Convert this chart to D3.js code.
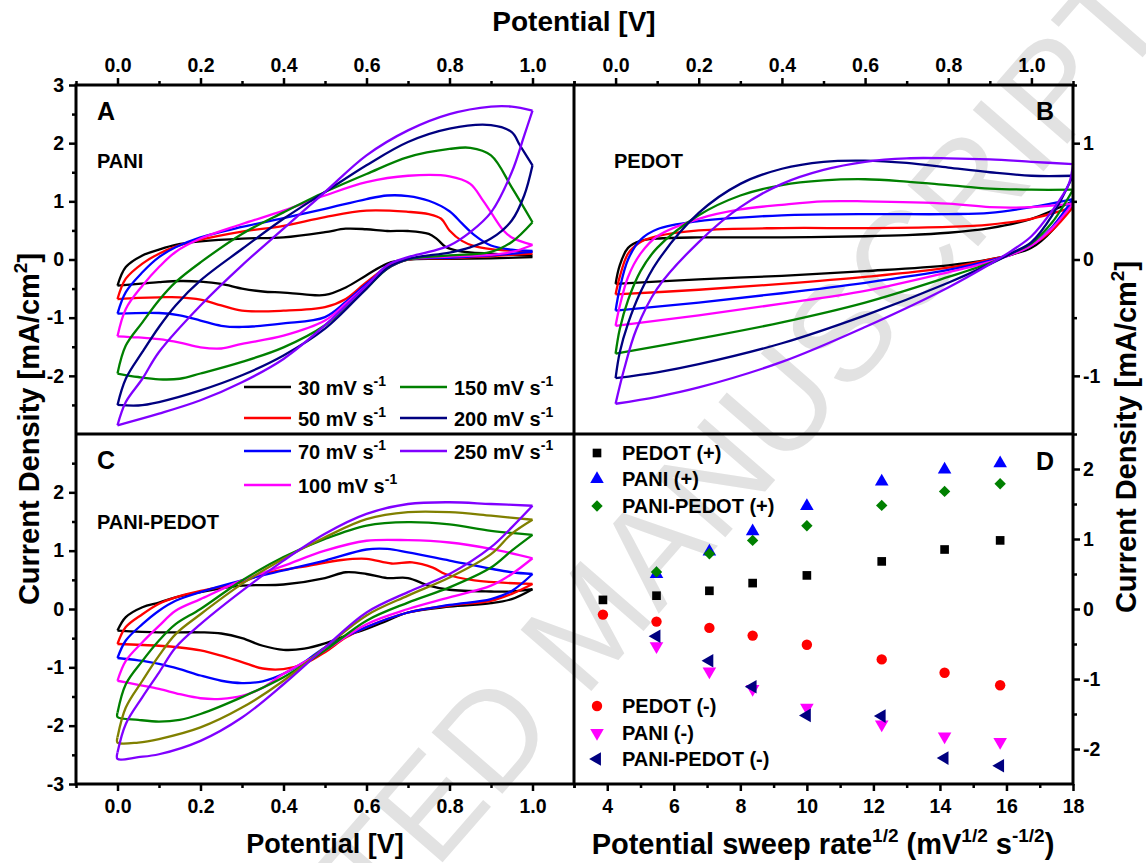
<!DOCTYPE html>
<html>
<head>
<meta charset="utf-8">
<script src="https://cdn.jsdelivr.net/npm/d3@7"></script>
<style>
  body { margin: 0; background: #fff; }
  text { font-family: "Liberation Sans", Arial, Helvetica, sans-serif; font-weight: bold; }
</style>
</head>
<body>
<div id="chart"></div>
<script>
////////////////////  data  //////////////////////////////

// sweep rates (mV/s) used for the cyclic voltammograms
var rateLabels = ["30", "50", "70", "100", "150", "200", "250"];
var colorsA = ["#000000", "#ff0000", "#0000ff", "#ff00ff", "#008000", "#000080", "#8000ff"];
var colorsC = ["#000000", "#ff0000", "#0000ff", "#ff00ff", "#008000", "#808000", "#8000ff"];

// panel A : PANI  -- [potential V, current mA/cm2], forward and reverse scan
var panelA_fwd = [
  [[0,-0.45],[0.02,-0.13],[0.06,0.07],[0.1,0.17],[0.14,0.25],[0.2,0.31],[0.3,0.36],[0.4,0.38],[0.5,0.47],[0.55,0.53],[0.6,0.52],[0.65,0.49],[0.7,0.49],[0.75,0.44],[0.77,0.35],[0.79,0.22],[0.82,0.15],[0.9,0.1],[1.0,0.07]],
  [[0,-0.68],[0.02,-0.33],[0.06,-0.07],[0.1,0.1],[0.14,0.22],[0.2,0.34],[0.3,0.48],[0.4,0.58],[0.5,0.73],[0.6,0.84],[0.7,0.82],[0.75,0.78],[0.78,0.7],[0.8,0.5],[0.83,0.32],[0.86,0.23],[0.9,0.18],[1.0,0.13]],
  [[0,-0.93],[0.02,-0.56],[0.06,-0.22],[0.1,0.04],[0.14,0.21],[0.2,0.38],[0.3,0.56],[0.4,0.71],[0.5,0.87],[0.6,1.04],[0.65,1.1],[0.7,1.09],[0.75,1.01],[0.8,0.83],[0.83,0.62],[0.86,0.42],[0.9,0.24],[0.95,0.17],[1.0,0.15]],
  [[0,-1.32],[0.02,-0.85],[0.06,-0.45],[0.1,-0.13],[0.14,0.13],[0.2,0.36],[0.3,0.61],[0.4,0.84],[0.5,1.1],[0.6,1.33],[0.7,1.44],[0.8,1.43],[0.85,1.3],[0.88,1.02],[0.9,0.81],[0.93,0.5],[0.95,0.38],[1.0,0.25]],
  [[0,-1.96],[0.02,-1.48],[0.06,-1.08],[0.1,-0.7],[0.14,-0.39],[0.2,-0.05],[0.3,0.44],[0.4,0.81],[0.5,1.16],[0.6,1.47],[0.7,1.76],[0.8,1.9],[0.85,1.92],[0.9,1.79],[0.95,1.24],[1.0,0.64]],
  [[0,-2.5],[0.02,-2.05],[0.06,-1.59],[0.1,-1.16],[0.14,-0.79],[0.2,-0.36],[0.3,0.18],[0.4,0.7],[0.5,1.16],[0.6,1.62],[0.7,2.02],[0.8,2.25],[0.9,2.31],[0.95,2.19],[0.97,1.96],[1.0,1.62]],
  [[0,-2.85],[0.02,-2.45],[0.06,-2.05],[0.1,-1.59],[0.2,-0.79],[0.3,-0.1],[0.4,0.53],[0.5,1.16],[0.6,1.79],[0.7,2.22],[0.8,2.5],[0.9,2.63],[0.95,2.63],[1.0,2.56]]
];
var panelA_rev = [
  [[1.0,0.04],[0.9,0.02],[0.8,0.01],[0.7,0],[0.65,-0.07],[0.6,-0.27],[0.55,-0.48],[0.5,-0.61],[0.45,-0.6],[0.4,-0.57],[0.35,-0.55],[0.3,-0.5],[0.25,-0.42],[0.2,-0.38],[0.15,-0.37],[0.1,-0.39],[0.05,-0.42],[0,-0.45]],
  [[1.0,0.1],[0.9,0.06],[0.8,0.02],[0.7,0],[0.65,-0.13],[0.6,-0.39],[0.55,-0.68],[0.5,-0.82],[0.4,-0.88],[0.3,-0.88],[0.25,-0.79],[0.2,-0.69],[0.15,-0.65],[0.1,-0.65],[0.05,-0.66],[0,-0.68]],
  [[1.0,0.13],[0.9,0.07],[0.8,0.03],[0.7,0],[0.65,-0.15],[0.6,-0.42],[0.55,-0.73],[0.5,-0.99],[0.4,-1.1],[0.3,-1.16],[0.25,-1.14],[0.2,-1.05],[0.15,-0.96],[0.1,-0.92],[0,-0.93]],
  [[1.0,0.25],[0.95,0.13],[0.9,0.08],[0.8,0.05],[0.7,0],[0.65,-0.16],[0.6,-0.45],[0.55,-0.76],[0.5,-1.05],[0.4,-1.31],[0.3,-1.45],[0.25,-1.53],[0.2,-1.51],[0.15,-1.43],[0.1,-1.37],[0.05,-1.34],[0,-1.32]],
  [[1.0,0.64],[0.95,0.3],[0.9,0.13],[0.8,0.07],[0.7,0],[0.65,-0.16],[0.6,-0.5],[0.55,-0.82],[0.5,-1.13],[0.4,-1.51],[0.3,-1.76],[0.2,-1.96],[0.15,-2.05],[0.1,-2.06],[0.05,-2.02],[0,-1.96]],
  [[1.0,1.62],[0.98,1.1],[0.95,0.67],[0.9,0.36],[0.85,0.21],[0.8,0.12],[0.7,0.01],[0.65,-0.15],[0.6,-0.5],[0.5,-1.19],[0.4,-1.65],[0.3,-1.99],[0.2,-2.25],[0.1,-2.45],[0.05,-2.51],[0,-2.5]],
  [[1.0,2.56],[0.98,2.13],[0.95,1.5],[0.9,0.81],[0.85,0.47],[0.8,0.24],[0.75,0.13],[0.7,0.04],[0.65,-0.1],[0.6,-0.45],[0.5,-1.13],[0.4,-1.71],[0.3,-2.11],[0.2,-2.42],[0.1,-2.65],[0,-2.85]]
];

// panel B : PEDOT
var panelB_fwd = [
  [[0,-0.21],[0.01,-0.05],[0.03,0.1],[0.06,0.16],[0.1,0.18],[0.2,0.19],[0.4,0.19],[0.6,0.2],[0.7,0.21],[0.8,0.23],[0.9,0.27],[1.0,0.35],[1.1,0.5]],
  [[0,-0.3],[0.01,-0.15],[0.03,0.05],[0.06,0.15],[0.1,0.2],[0.2,0.25],[0.4,0.27],[0.6,0.27],[0.8,0.28],[0.9,0.3],[1.0,0.35],[1.1,0.45]],
  [[0,-0.44],[0.01,-0.25],[0.03,0.0],[0.06,0.17],[0.1,0.26],[0.2,0.33],[0.3,0.36],[0.4,0.38],[0.6,0.39],[0.8,0.39],[0.9,0.4],[1.0,0.45],[1.1,0.52]],
  [[0,-0.57],[0.01,-0.4],[0.03,-0.15],[0.06,0.05],[0.1,0.2],[0.2,0.35],[0.3,0.43],[0.4,0.47],[0.5,0.5],[0.6,0.5],[0.8,0.48],[0.9,0.45],[1.0,0.45],[1.1,0.48]],
  [[0,-0.81],[0.01,-0.6],[0.03,-0.35],[0.06,-0.1],[0.1,0.1],[0.2,0.38],[0.3,0.55],[0.4,0.64],[0.5,0.68],[0.6,0.69],[0.7,0.67],[0.8,0.64],[0.9,0.61],[1.0,0.6],[1.1,0.6]],
  [[0,-1.02],[0.01,-0.8],[0.03,-0.55],[0.06,-0.28],[0.1,-0.02],[0.2,0.4],[0.3,0.65],[0.4,0.78],[0.5,0.84],[0.6,0.85],[0.7,0.83],[0.8,0.79],[0.9,0.75],[1.0,0.72],[1.1,0.72]],
  [[0,-1.24],[0.02,-0.95],[0.05,-0.6],[0.1,-0.25],[0.2,0.15],[0.3,0.45],[0.4,0.65],[0.5,0.77],[0.6,0.84],[0.7,0.87],[0.8,0.87],[0.9,0.86],[1.0,0.84],[1.1,0.82]]
];
var panelB_rev = [
  [[1.1,0.5],[1.05,0.25],[1.0,0.1],[0.95,0.04],[0.9,0],[0.8,-0.05],[0.6,-0.1],[0.4,-0.14],[0.2,-0.17],[0,-0.21]],
  [[1.1,0.45],[1.05,0.25],[1.0,0.12],[0.95,0.04],[0.9,0],[0.8,-0.07],[0.6,-0.15],[0.4,-0.21],[0.2,-0.26],[0,-0.3]],
  [[1.1,0.52],[1.05,0.28],[1.0,0.12],[0.95,0.04],[0.9,-0.01],[0.8,-0.09],[0.6,-0.2],[0.4,-0.29],[0.2,-0.37],[0,-0.44]],
  [[1.1,0.48],[1.05,0.27],[1.0,0.12],[0.95,0.04],[0.9,-0.02],[0.8,-0.11],[0.6,-0.27],[0.4,-0.38],[0.2,-0.48],[0,-0.57]],
  [[1.1,0.6],[1.05,0.32],[1.0,0.14],[0.95,0.05],[0.9,-0.03],[0.8,-0.15],[0.6,-0.37],[0.4,-0.54],[0.2,-0.68],[0,-0.81]],
  [[1.1,0.72],[1.05,0.38],[1.0,0.15],[0.95,0.05],[0.9,-0.04],[0.8,-0.2],[0.6,-0.48],[0.4,-0.72],[0.2,-0.9],[0.1,-0.97],[0,-1.02]],
  [[1.1,0.82],[1.09,0.65],[1.05,0.42],[1.0,0.2],[0.95,0.07],[0.9,-0.04],[0.8,-0.24],[0.6,-0.58],[0.4,-0.88],[0.2,-1.1],[0.1,-1.18],[0,-1.24]]
];

// panel C : PANI-PEDOT
var panelC_fwd = [
  [[0,-0.37],[0.02,-0.14],[0.06,0.03],[0.1,0.11],[0.14,0.2],[0.2,0.29],[0.3,0.4],[0.4,0.42],[0.5,0.53],[0.55,0.63],[0.6,0.6],[0.65,0.53],[0.7,0.53],[0.75,0.4],[0.8,0.33],[0.9,0.3],[0.95,0.3],[1.0,0.34]],
  [[0,-0.6],[0.02,-0.31],[0.06,-0.09],[0.1,0.09],[0.14,0.2],[0.2,0.31],[0.3,0.46],[0.35,0.6],[0.46,0.74],[0.54,0.84],[0.6,0.86],[0.66,0.78],[0.71,0.8],[0.76,0.71],[0.79,0.6],[0.86,0.49],[1.0,0.43]],
  [[0,-0.84],[0.02,-0.54],[0.06,-0.26],[0.1,-0.03],[0.14,0.14],[0.2,0.29],[0.3,0.49],[0.4,0.66],[0.5,0.83],[0.6,1.02],[0.65,1.03],[0.7,0.97],[0.8,0.83],[0.9,0.69],[0.95,0.63],[1.0,0.6]],
  [[0,-1.23],[0.02,-0.89],[0.06,-0.57],[0.1,-0.29],[0.14,-0.03],[0.2,0.17],[0.3,0.49],[0.4,0.74],[0.5,1.0],[0.6,1.17],[0.7,1.18],[0.8,1.14],[0.9,1.03],[1.0,0.87]],
  [[0,-1.78],[0.02,-1.29],[0.06,-0.89],[0.1,-0.54],[0.14,-0.26],[0.2,0],[0.3,0.49],[0.4,0.89],[0.5,1.2],[0.6,1.43],[0.7,1.49],[0.8,1.45],[0.9,1.34],[1.0,1.27]],
  [[0,-2.2],[0.02,-1.69],[0.06,-1.23],[0.1,-0.8],[0.14,-0.43],[0.2,-0.09],[0.3,0.43],[0.4,0.86],[0.5,1.23],[0.6,1.54],[0.7,1.66],[0.8,1.66],[0.9,1.6],[1.0,1.53]],
  [[0,-2.46],[0.02,-1.97],[0.06,-1.51],[0.1,-1.09],[0.14,-0.66],[0.2,-0.26],[0.3,0.31],[0.4,0.83],[0.5,1.29],[0.6,1.63],[0.7,1.8],[0.8,1.83],[0.9,1.8],[1.0,1.77]]
];
var panelC_rev = [
  [[1.0,0.34],[0.95,0.17],[0.9,0.1],[0.8,0.04],[0.7,-0.06],[0.65,-0.2],[0.6,-0.34],[0.55,-0.46],[0.5,-0.59],[0.45,-0.68],[0.4,-0.7],[0.35,-0.63],[0.3,-0.5],[0.25,-0.42],[0.2,-0.4],[0.1,-0.4],[0,-0.37]],
  [[1.0,0.43],[0.95,0.26],[0.9,0.14],[0.8,0.06],[0.7,-0.06],[0.6,-0.31],[0.55,-0.49],[0.5,-0.74],[0.45,-0.94],[0.4,-1.03],[0.35,-1.02],[0.3,-0.91],[0.25,-0.8],[0.2,-0.71],[0.15,-0.66],[0.1,-0.63],[0,-0.6]],
  [[1.0,0.6],[0.95,0.31],[0.9,0.17],[0.8,0.07],[0.7,-0.06],[0.6,-0.31],[0.5,-0.66],[0.45,-0.91],[0.4,-1.11],[0.35,-1.24],[0.3,-1.27],[0.25,-1.23],[0.2,-1.14],[0.15,-1.03],[0.1,-0.94],[0.05,-0.88],[0,-0.84]],
  [[1.0,0.87],[0.95,0.6],[0.9,0.4],[0.8,0.2],[0.7,0],[0.6,-0.26],[0.5,-0.71],[0.4,-1.11],[0.35,-1.35],[0.3,-1.49],[0.25,-1.54],[0.2,-1.53],[0.15,-1.46],[0.1,-1.37],[0.05,-1.3],[0,-1.23]],
  [[1.0,1.27],[0.95,1.0],[0.9,0.71],[0.8,0.37],[0.7,0.11],[0.6,-0.2],[0.5,-0.71],[0.4,-1.17],[0.3,-1.51],[0.2,-1.8],[0.15,-1.9],[0.1,-1.93],[0.05,-1.9],[0,-1.85],[0,-1.78]],
  [[1.0,1.53],[0.95,1.29],[0.9,0.94],[0.8,0.54],[0.7,0.23],[0.6,-0.11],[0.5,-0.66],[0.4,-1.23],[0.3,-1.69],[0.2,-2.03],[0.1,-2.23],[0.05,-2.29],[0,-2.29],[0,-2.2]],
  [[1.0,1.77],[0.95,1.4],[0.9,1.06],[0.8,0.6],[0.7,0.29],[0.6,-0.06],[0.5,-0.66],[0.4,-1.29],[0.3,-1.86],[0.2,-2.26],[0.1,-2.49],[0.05,-2.54],[0,-2.57],[0,-2.46]]
];

// panel D : peak current vs sqrt(sweep rate)
var sqrtRate       = [3.87, 5.48, 7.07, 8.37, 10.0, 12.25, 14.14, 15.81];
var pedotPlus      = [0.13, 0.19, 0.26, 0.37, 0.48, 0.68, 0.85, 0.98];
var paniPlus       = [null, 0.50, 0.82, 1.11, 1.47, 1.82, 1.99, 2.08];
var paniPedotPlus  = [null, 0.53, 0.79, 0.98, 1.19, 1.48, 1.68, 1.79];
var pedotMinus     = [-0.08, -0.18, -0.27, -0.38, -0.51, -0.72, -0.91, -1.09];
var paniMinus      = [null, -0.53, -0.89, -1.14, -1.41, -1.65, -1.82, -1.90];
var paniPedotMinus = [null, -0.39, -0.74, -1.11, -1.52, -1.53, -2.13, -2.24];

// tick labels
var potTicks = [0, 0.2, 0.4, 0.6, 0.8, 1.0];
var potMinor = [-0.1, 0.1, 0.3, 0.5, 0.7, 0.9, 1.1];
var rateTicks = [4, 6, 8, 10, 12, 14, 16, 18];
var rateMinor = [3, 5, 7, 9, 11, 13, 15, 17];

//////////////////////////////// set up the svg ////////////////////////////////////////

var svgWidth = 1146, svgHeight = 863;
var L = 76, M = 574, R = 1073, T = 85, H = 434, B = 784;

var svg = d3.select("#chart").append("svg")
  .attr("width", svgWidth).attr("height", svgHeight);
svg.append("rect").attr("width", svgWidth).attr("height", svgHeight).attr("fill", "#fff");

// watermark (behind everything)
svg.append("text")
  .attr("transform", "translate(1174,21) rotate(-49)")
  .attr("text-anchor", "end")
  .style("font-size", "136px").style("font-weight", "normal")
  .attr("fill", "#e2e2e2")
  .text("ACCEPTED MANUSCRIPT");

var xA = d3.scaleLinear().domain([-0.1, 1.1]).range([L, M]);
var xB = d3.scaleLinear().domain([-0.1, 1.1]).range([M, R]);
var xD = d3.scaleLinear().domain([3, 18]).range([M, R]);
var yA = d3.scaleLinear().domain([-3, 3]).range([H, T]);
var yC = d3.scaleLinear().domain([-3, 3]).range([B, H]);
var yB = d3.scaleLinear().domain([-1.5, 1.5]).range([H, T]);
var yD = d3.scaleLinear().domain([-2.5, 2.5]).range([B, H]);

//////////////////////////////// CV loops ////////////////////////////////////////

function drawLoops(fwd, rev, xs, ys, colors) {
  var line = d3.line()
    .x(d => xs(d[0])).y(d => ys(d[1]))
    .curve(d3.curveCatmullRom.alpha(0.5));
  var g = svg.append("g").attr("fill", "none").attr("stroke-width", 2.3);
  fwd.forEach(function (f, i) {
    g.append("path").attr("d", line(f)).attr("stroke", colors[i]);
    g.append("path").attr("d", line(rev[i])).attr("stroke", colors[i]);
  });
}
drawLoops(panelA_fwd, panelA_rev, xA, yA, colorsA);
drawLoops(panelB_fwd, panelB_rev, xB, yB, colorsA);
drawLoops(panelC_fwd, panelC_rev, xA, yC, colorsC);

//////////////////////////////// panel D markers ////////////////////////////////////////

var dSeries = [
  { name: "PEDOT (+)", vals: pedotPlus, color: "#000000", type: d3.symbolSquare, size: 75, rot: 0, ly: 453 },
  { name: "PANI (+)", vals: paniPlus, color: "#0000ff", type: d3.symbolTriangle, size: 80, rot: 0, ly: 479 },
  { name: "PANI-PEDOT (+)", vals: paniPedotPlus, color: "#008000", type: d3.symbolSquare, size: 65, rot: 45, ly: 506 },
  { name: "PEDOT (-)", vals: pedotMinus, color: "#ff0000", type: d3.symbolCircle, size: 85, rot: 0, ly: 706 },
  { name: "PANI (-)", vals: paniMinus, color: "#ff00ff", type: d3.symbolTriangle, size: 80, rot: 180, ly: 733 },
  { name: "PANI-PEDOT (-)", vals: paniPedotMinus, color: "#000080", type: d3.symbolTriangle, size: 80, rot: -90, ly: 759 }
];

dSeries.forEach(function (s) {
  var sym = d3.symbol().type(s.type).size(s.size);
  var pts = sqrtRate.map((x, i) => [x, s.vals[i]]).filter(p => p[1] !== null);
  svg.append("g").selectAll("path").data(pts).enter().append("path")
    .attr("d", sym)
    .attr("transform", d => `translate(${xD(d[0])},${yD(d[1])}) rotate(${s.rot})`)
    .attr("fill", s.color);
  // legend
  svg.append("path").attr("d", sym)
    .attr("transform", `translate(597,${s.ly}) rotate(${s.rot})`)
    .attr("fill", s.color);
  svg.append("text").attr("x", 622).attr("y", s.ly + 7)
    .style("font-size", "20px").text(s.name);
});

//////////////////////////////// frame and axes ////////////////////////////////////////

var frame = svg.append("g").attr("stroke", "#000").attr("stroke-width", 3).attr("fill", "none");
frame.append("rect").attr("x", L).attr("y", T).attr("width", R - L).attr("height", B - T);
frame.append("line").attr("x1", L).attr("x2", R).attr("y1", H).attr("y2", H);
frame.append("line").attr("x1", M).attr("x2", M).attr("y1", T).attr("y2", B);

function addAxis(gen, scale, major, minor, fmt, tx, ty, pad) {
  var g = svg.append("g").attr("transform", `translate(${tx},${ty})`);
  g.call(gen(scale).tickValues(major).tickFormat(fmt).tickSize(7).tickPadding(pad));
  g.append("g").call(gen(scale).tickValues(minor).tickFormat("").tickSize(4));
  g.selectAll(".domain").remove();
  g.selectAll("line").attr("stroke", "#000").attr("stroke-width", 2.5);
  g.selectAll("text").style("font-size", "19.5px")
    .style("font-family", '"Liberation Sans", Arial, sans-serif').style("font-weight", "bold")
    .attr("fill", "#000");
}
var f1 = d => d.toFixed(1);
var f0 = d => String(d);

addAxis(d3.axisTop, xA, potTicks, potMinor, f1, 0, T, 6);
addAxis(d3.axisTop, xB, potTicks, potMinor, f1, 0, T, 6);
addAxis(d3.axisBottom, xA, potTicks, potMinor, f1, 0, B, 8);
addAxis(d3.axisBottom, xD, rateTicks, rateMinor, f0, 0, B, 8);
addAxis(d3.axisLeft, yA, [-2, -1, 0, 1, 2, 3], [-2.5, -1.5, -0.5, 0.5, 1.5, 2.5], f0, L, 0, 5);
addAxis(d3.axisLeft, yC, [-3, -2, -1, 0, 1, 2], [-2.5, -1.5, -0.5, 0.5, 1.5, 2.5], f0, L, 0, 5);
addAxis(d3.axisRight, yB, [-1, 0, 1], [-1.5, -0.5, 0.5, 1.5], f0, R, 0, 3);
addAxis(d3.axisRight, yD, [-2, -1, 0, 1, 2], [-1.5, -0.5, 0.5, 1.5], f0, R, 0, 3);

//////////////////////////////// legend for CV panels ////////////////////////////////////////

var legX = [244, 400];
var legY = [387, 418, 451, 485];
rateLabels.forEach(function (r, i) {
  var col = i < 4 ? 0 : 1;
  var row = i < 4 ? i : i - 4;
  var lx = legX[col], ly = legY[row];
  svg.append("line").attr("x1", lx).attr("x2", lx + 47).attr("y1", ly).attr("y2", ly)
    .attr("stroke", colorsA[i]).attr("stroke-width", 2.6);
  var t = svg.append("text").attr("x", lx + 54).attr("y", ly + 8).style("font-size", "20px");
  t.append("tspan").text(r + " mV s");
  t.append("tspan").attr("dy", -9).style("font-size", "14px").text("-1");
});

//////////////////////////////// labels and titles ////////////////////////////////////////

function label(txt, x, y, size, anchor) {
  return svg.append("text").attr("x", x).attr("y", y)
    .attr("text-anchor", anchor || "start").style("font-size", size + "px").text(txt);
}
label("A", 97, 120, 25);
label("B", 1036, 120, 25);
label("C", 97, 469, 25);
label("D", 1036, 470, 25);
label("PANI", 97, 168, 20);
label("PEDOT", 614, 168, 20);
label("PANI-PEDOT", 97, 529, 20);

label("Potential [V]", 574, 31, 28, "middle");
label("Potential [V]", 325, 853, 27, "middle");

var xt = svg.append("text").attr("x", 823).attr("y", 854).attr("text-anchor", "middle").style("font-size", "29px");
xt.append("tspan").text("Potential sweep rate");
xt.append("tspan").attr("dy", -12).style("font-size", "19px").text("1/2");
xt.append("tspan").attr("dy", 12).text(" (mV");
xt.append("tspan").attr("dy", -12).style("font-size", "19px").text("1/2");
xt.append("tspan").attr("dy", 12).text(" s");
xt.append("tspan").attr("dy", -12).style("font-size", "19px").text("-1/2");
xt.append("tspan").attr("dy", 12).text(")");

function yTitle(x, y) {
  var t = svg.append("text").attr("transform", `translate(${x},${y}) rotate(-90)`)
    .attr("text-anchor", "middle").style("font-size", "29px");
  t.append("tspan").text("Current Density [mA/cm");
  t.append("tspan").attr("dy", -12).style("font-size", "19px").text("2");
  t.append("tspan").attr("dy", 12).text("]");
}
yTitle(39, 429);
yTitle(1136, 437);
</script>
</body>
</html>
